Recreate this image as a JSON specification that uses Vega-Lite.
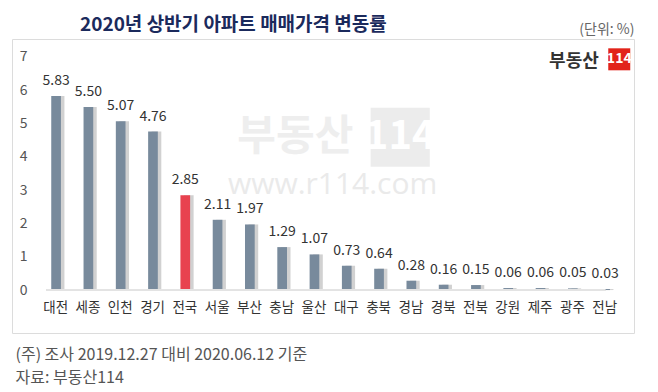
{
  "$schema": "https://vega.github.io/schema/vega-lite/v6.json",
  "width": 622,
  "height": 294,
  "autosize": {"type": "none"},
  "padding": {"left": 12, "top": 39, "right": 24, "bottom": 59},
  "background": "white",
  "config": {
    "view": {"stroke": "#dcdcdc", "strokeWidth": 1},
    "font": "Noto Sans CJK KR"
  },
  "title": {
    "text": "2020년 상반기 아파트 매매가격 변동률",
    "anchor": "start",
    "frame": "group",
    "dx": 68,
    "dy": 21,
    "offset": 8,
    "fontSize": 19,
    "fontWeight": "bold",
    "color": "#1b2a5c",
    "font": "Noto Sans CJK KR"
  },
  "data": {
    "values": [
      {"region": "대전", "value": 5.83, "type": "지역"},
      {"region": "세종", "value": 5.50, "type": "지역"},
      {"region": "인천", "value": 5.07, "type": "지역"},
      {"region": "경기", "value": 4.76, "type": "지역"},
      {"region": "전국", "value": 2.85, "type": "전국"},
      {"region": "서울", "value": 2.11, "type": "지역"},
      {"region": "부산", "value": 1.97, "type": "지역"},
      {"region": "충남", "value": 1.29, "type": "지역"},
      {"region": "울산", "value": 1.07, "type": "지역"},
      {"region": "대구", "value": 0.73, "type": "지역"},
      {"region": "충북", "value": 0.64, "type": "지역"},
      {"region": "경남", "value": 0.28, "type": "지역"},
      {"region": "경북", "value": 0.16, "type": "지역"},
      {"region": "전북", "value": 0.15, "type": "지역"},
      {"region": "강원", "value": 0.06, "type": "지역"},
      {"region": "제주", "value": 0.06, "type": "지역"},
      {"region": "광주", "value": 0.05, "type": "지역"},
      {"region": "전남", "value": 0.03, "type": "지역"}
    ]
  },
  "layer": [
    {
      "data": {"values": [{"t": "부동산"}]},
      "mark": {"type": "text", "fontSize": 42, "fontWeight": "bold", "color": "#eeeeee", "baseline": "middle", "align": "center"},
      "encoding": {
        "x": {"datum": "충남"},
        "xOffset": {"value": 18},
        "y": {"datum": 4.59},
        "text": {"field": "t"}
      }
    },
    {
      "data": {"values": [{"t": "114"}]},
      "mark": {"type": "point", "shape": "square", "filled": true, "size": 3500, "color": "#ececec", "opacity": 1},
      "encoding": {
        "x": {"datum": "충북"},
        "xOffset": {"value": 26},
        "y": {"datum": 4.59}
      }
    },
    {
      "data": {"values": [{"t": "114"}]},
      "mark": {"type": "text", "fontSize": 40, "fontWeight": "bold", "color": "white", "baseline": "middle", "align": "center"},
      "encoding": {
        "x": {"datum": "충북"},
        "xOffset": {"value": 26},
        "y": {"datum": 4.59},
        "text": {"field": "t"}
      }
    },
    {
      "data": {"values": [{"t": "www.r114.com"}]},
      "mark": {"type": "text", "fontSize": 30, "color": "#eaeaea", "baseline": "middle", "align": "center", "font": "Open Sans"},
      "encoding": {
        "x": {"datum": "울산"},
        "xOffset": {"value": 23},
        "y": {"datum": 3.15},
        "text": {"field": "t"}
      }
    },
    {
      "data": {"values": [{"t": "부동산"}]},
      "mark": {"type": "text", "fontSize": 18, "fontWeight": "bold", "color": "#333333", "baseline": "middle", "align": "center"},
      "encoding": {
        "x": {"datum": "광주"},
        "xOffset": {"value": 6},
        "y": {"datum": 6.84},
        "text": {"field": "t"}
      }
    },
    {
      "data": {"values": [{"t": "114"}]},
      "mark": {"type": "point", "shape": "square", "filled": true, "size": 484, "color": "#e2231a", "opacity": 1},
      "encoding": {
        "x": {"datum": "전남"},
        "xOffset": {"value": 19},
        "y": {"datum": 6.93}
      }
    },
    {
      "data": {"values": [{"t": "114"}]},
      "mark": {"type": "text", "fontSize": 14, "fontWeight": "bold", "color": "white", "baseline": "middle", "align": "center"},
      "encoding": {
        "x": {"datum": "전남"},
        "xOffset": {"value": 19},
        "y": {"datum": 6.93},
        "text": {"field": "t"}
      }
    },
    {
      "mark": {"type": "bar", "color": "#9a9a9a", "opacity": 0.45, "xOffset": 3.5},
      "encoding": {
        "x": {
          "field": "region",
          "type": "nominal",
          "scale": {
            "type": "band",
            "domain": ["대전", "세종", "인천", "경기", "전국", "서울", "부산", "충남", "울산", "대구", "충북", "경남", "경북", "전북", "강원", "제주", "광주", "전남"],
            "paddingInner": 0.7,
            "paddingOuter": 0.98,
            "align": 0.62,
            "round": false
          },
          "axis": {
            "orient": "bottom",
            "offset": -30,
            "domain": false,
            "ticks": false,
            "grid": false,
            "labelPadding": 4,
            "labelOffset": 12,
            "labelFontSize": 13.5,
            "labelColor": "#333333",
            "labelAngle": 0,
            "title": ["(주) 조사 2019.12.27 대비 2020.06.12 기준", "자료: 부동산114"],
            "titleX": 3,
            "titleY": 43,
            "titleAlign": "left",
            "titleAnchor": "start",
            "titleBaseline": "top",
            "titleLineHeight": 23,
            "titleFontSize": 16,
            "titleFontWeight": "normal",
            "titleColor": "#555555"
          }
        },
        "y": {
          "field": "value",
          "type": "quantitative",
          "scale": {"domain": [-1.29, 7.54], "nice": false, "zero": false},
          "axis": {
            "values": [0, 1, 2, 3, 4, 5, 6, 7],
            "domain": false,
            "ticks": false,
            "grid": false,
            "offset": -17,
            "labelPadding": 2,
            "labelFontSize": 14,
            "labelColor": "#555555",
            "title": "(단위: %)",
            "titleAngle": 0,
            "titleAlign": "right",
            "titleBaseline": "middle",
            "titleX": 605,
            "titleY": -10,
            "titleFontSize": 14,
            "titleFontWeight": "normal",
            "titleColor": "#666666"
          }
        },
        "y2": {"datum": 0}
      }
    },
    {
      "mark": {"type": "bar"},
      "encoding": {
        "x": {"field": "region", "type": "nominal"},
        "y": {"field": "value", "type": "quantitative"},
        "y2": {"datum": 0},
        "color": {
          "field": "type",
          "type": "nominal",
          "scale": {"domain": ["지역", "전국"], "range": ["#788a9c", "#e8424f"]},
          "legend": null
        }
      }
    },
    {
      "mark": {"type": "rule", "color": "#e3e3e3", "strokeWidth": 1.2},
      "encoding": {
        "x": {"datum": "대전"},
        "xOffset": {"value": -5},
        "x2": {"datum": "전남"},
        "x2Offset": {"value": 19},
        "y": {"datum": 0}
      }
    },
    {
      "mark": {"type": "text", "baseline": "alphabetic", "dy": -11, "fontSize": 14, "color": "#333333", "align": "center"},
      "encoding": {
        "x": {"field": "region", "type": "nominal"},
        "y": {"field": "value", "type": "quantitative"},
        "text": {"field": "value", "type": "quantitative", "format": ".2f"}
      }
    }
  ]
}
